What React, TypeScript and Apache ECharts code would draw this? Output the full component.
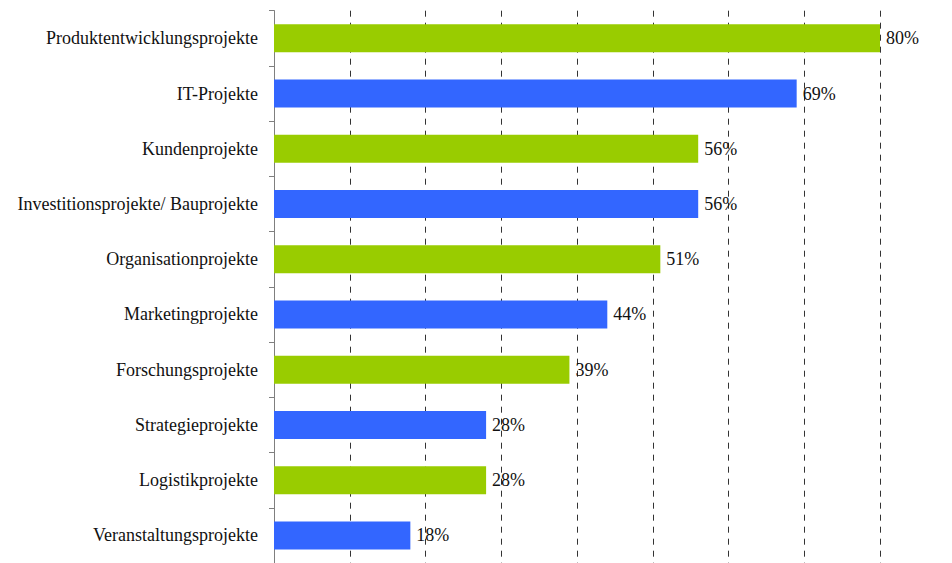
import React, { useEffect, useRef } from "react";
import * as echarts from "echarts";

const categories = [
  "Produktentwicklungsprojekte",
  "IT-Projekte",
  "Kundenprojekte",
  "Investitionsprojekte/ Bauprojekte",
  "Organisationprojekte",
  "Marketingprojekte",
  "Forschungsprojekte",
  "Strategieprojekte",
  "Logistikprojekte",
  "Veranstaltungsprojekte",
];
const values = [80, 69, 56, 56, 51, 44, 39, 28, 28, 18];
const colors = ["#99CC00", "#3366FF"];

const FONT = "'Liberation Serif', 'DejaVu Serif', serif";

export default function App() {
  const ref = useRef<HTMLDivElement>(null);
  useEffect(() => {
    if (!ref.current) return;
    const chart = echarts.init(ref.current, undefined, { renderer: "svg" });
    chart.setOption({
      animation: false,
      backgroundColor: "#ffffff",
      textStyle: { fontFamily: FONT },
      grid: { left: 266, top: 2.7, width: 606, height: 554, containLabel: false },
      xAxis: {
        type: "value",
        min: 0,
        max: 80,
        interval: 10,
        axisLine: { show: false },
        axisTick: { show: false },
        axisLabel: { show: false },
        splitLine: {
          show: true,
          lineStyle: { color: "#333333", width: 1, type: [6, 6] },
        },
      },
      yAxis: {
        type: "category",
        data: categories,
        inverse: true,
        axisLine: { show: true, lineStyle: { color: "#7f7f7f", width: 1 } },
        axisTick: { show: true, length: 5, lineStyle: { color: "#7f7f7f" } },
        axisLabel: {
          margin: 16,
          fontSize: 18,
          color: "#111111",
          fontFamily: FONT,
        },
      },
      series: [
        {
          type: "bar",
          data: values.map((v, i) => ({
            value: v,
            itemStyle: { color: colors[i % 2] },
          })),
          barWidth: 28,
          label: {
            show: true,
            position: "right",
            distance: 6,
            formatter: "{c}%",
            fontSize: 18,
            color: "#111111",
            fontFamily: FONT,
          },
        },
      ],
    });
    return () => chart.dispose();
  }, []);
  return <div ref={ref} style={{ width: 944, height: 555 }} />;
}
